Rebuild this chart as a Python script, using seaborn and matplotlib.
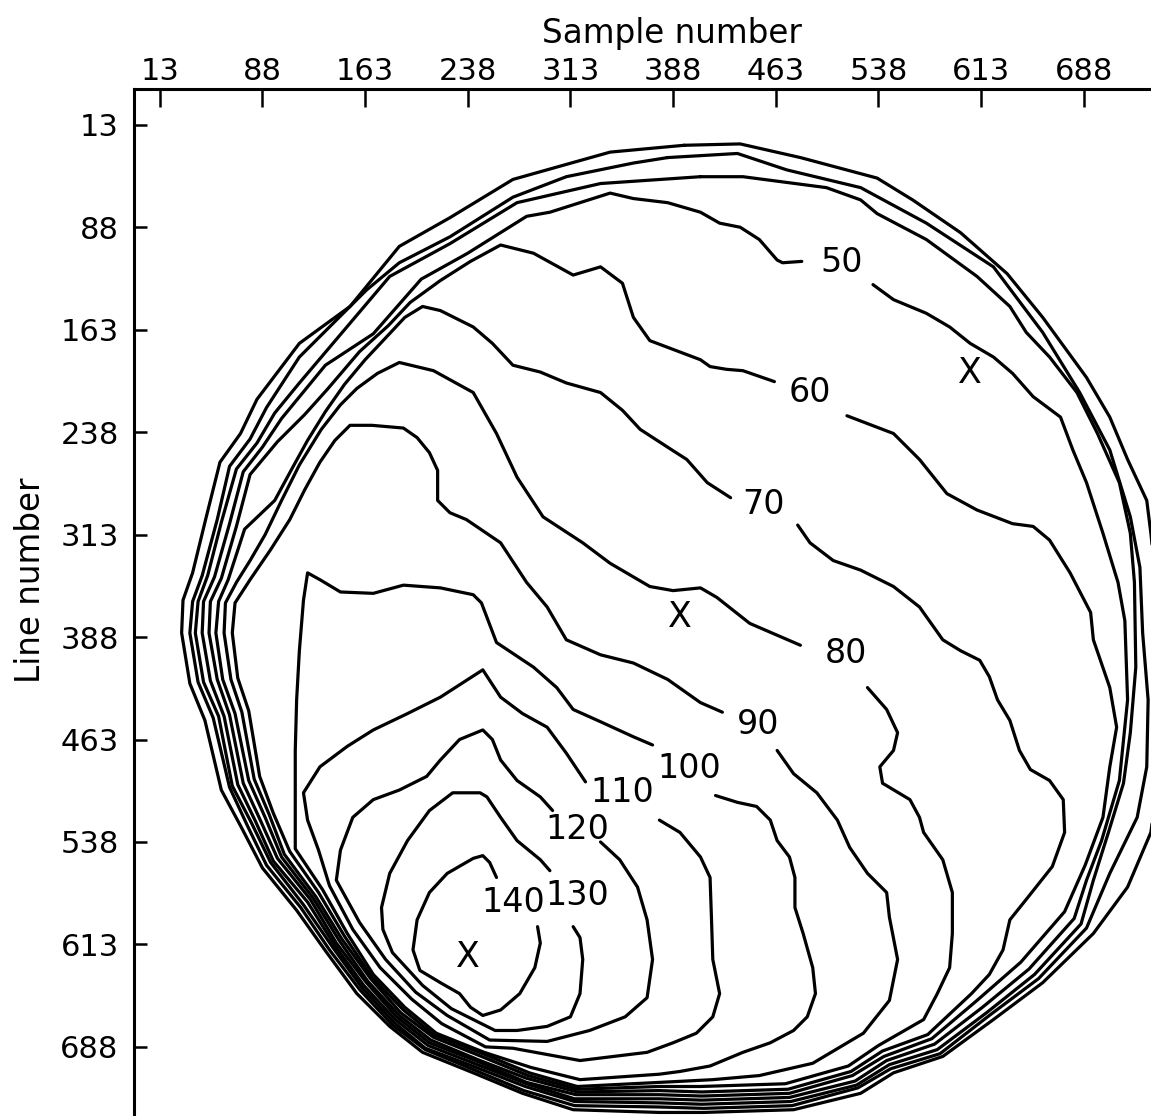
import matplotlib
matplotlib.use("Agg")
import matplotlib.pyplot as plt
import seaborn as sns
import pandas as pd

sns.set_theme(style="ticks")
plt.rcParams['font.family'] = ['DejaVu Sans']

ring_outer = [(396,28),(437,27),(481,37),(537,52),(563,68),(598,92),(632,122),(658,154),(690,198),(707,227),
              (720,258),(734,288),(737,312),(742,361),(744,434),(742,493),(737,531),(720,571),(695,605),(658,641),
              (622,668),(585,695),(549,707),(525,722),(476,734),(410,736),(378,736),(315,734),(278,722),(242,707),
              (205,692),(181,673),(157,649),(135,619),(113,588),(88,557),(73,528),(58,500),(46,449),(35,422),
              (29,385),(30,361),(37,341),(47,300),(57,260),(72,239),(84,214),(115,173),(152,146),(188,102),
              (225,81),(271,53),(310,42),(342,33),(396,28)]
ring_mid = [(384,37),(435,34),(471,46),(525,59),(573,85),(622,117),(658,165),(685,209),(707,251),(722,300),
            (729,337),(731,385),(735,434),(734,483),(727,520),(707,561),(690,601),(655,638),(619,665),(583,693),
            (547,704),(523,718),(475,731),(410,733),(378,732),(316,731),(279,720),(243,705),(207,690),(183,672),
            (159,646),(137,617),(116,586),(91,555),(77,526),(64,498),(52,447),(41,421),(35,385),(37,362),
            (44,343),(55,302),(64,263),(79,243),(91,220),(115,183),(164,134),(188,114),(225,95),(271,66),
            (310,51),(359,41),(384,37)]
ring_inner = [(408,51),(439,51),(500,59),(525,68),(537,78),(573,97),(610,124),(634,146),(646,165),(663,183),
              (683,209),(698,239),(714,275),(722,312),(725,348),(726,410),(722,458),(717,495),(706,531),(695,566),
              (686,598),(652,635),(617,663),(581,690),(546,701),(522,716),(474,728),(409,730),(378,729),(316,728),
              (280,717),(244,703),(207,689),(184,670),(161,645),(140,616),(118,584),(94,553),(80,524),(66,497),
              (56,446),(45,421),(39,385),(41,362),(48,343),(58,304),(69,265),(84,246),(97,224),(115,202),
              (148,163),(181,124),(225,100),(274,70),(335,56),(408,51)]
c50 = [(534,130),(549,141),(573,151),(590,161),(605,173),(622,183),(636,195),(651,212),(671,227),(680,251),
       (690,275),(702,312),(713,348),(718,376),(720,434),(714,493),(701,537),(690,566),(681,594),(648,631),
       (614,659),(579,686),(544,698),(521,713),(473,725),(409,727),(378,726),(316,726),(281,715),(245,701),
       (209,687),(185,668),(162,643),(141,614),(121,582),(96,552),(83,523),(70,496),(60,446),(50,420),
       (44,385),(45,362),(53,344),(64,305),(74,267),(88,249),(102,228),(134,189),(169,166),(204,126),
       (238,107),(281,80),(298,77),(342,63),(359,67),(384,70),(408,77),(422,85),(437,88),(451,97),
       (464,112),(468,114),(482,113)]
c60 = [(515,226),(549,239),(568,258),(588,283),(610,295),(636,305),(651,307),(663,317),(678,341),(693,370),
       (695,390),(707,425),(712,454),(707,483),(702,520),(689,555),(674,589),(642,626),(610,654),(577,682),
       (542,695),(519,709),(473,722),(409,724),(378,723),(317,723),(281,714),(246,699),(210,685),(186,666),
       (164,641),(142,612),(123,580),(99,550),(86,521),(74,495),(64,445),(55,419),(49,385),(50,362),
       (58,345),(69,307),(79,269),(99,245),(119,225),(136,206),(159,179),(180,160),(196,143),(218,127),
       (240,113),(262,101),(286,107),(315,123),(335,117),(351,129),(359,154),(371,171),(408,185),(415,190),
       (427,192),(439,193),(462,201)]
c70 = [(479,306),(488,319),(505,332),(525,339),(549,351),(568,366),(585,390),(598,398),(612,405),(619,417),
       (625,434),(634,449),(641,471),(649,485),(663,493),(673,507),(674,531),(665,556),(646,580),(634,595),
       (629,617),(619,635),(606,649),(574,679),(541,691),(518,706),(472,719),(409,721),(378,720),(318,721),
       (281,711),(247,698),(211,683),(188,665),(165,640),(144,610),(125,579),(102,549),(90,520),(78,493),
       (68,444),(59,419),(54,385),(56,362),(63,346),(75,309),(97,288),(110,264),(121,244),(134,223),
       (148,203),(163,185),(178,169),(192,154),(205,146),(218,149),(242,161),(256,173),(271,189),(291,194),
       (310,202),(335,209),(351,222),(364,236),(384,249),(398,258),(413,275),(430,286)]
c80 = [(530,425),(544,441),(552,458),(549,471),(539,483),(541,495),(561,507),(568,520),(571,531),(585,551),
       (592,575),(592,605),(590,630),(581,649),(571,668),(538,687),(516,702),(470,715),(408,717),(378,717),
       (318,719),(282,709),(248,695),(213,681),(189,663),(167,638),(146,609),(127,578),(104,547),(93,518),
       (82,492),(73,443),(65,419),(60,385),(61,363),(69,348),(79,332),(90,313),(102,288),(115,262),
       (131,236),(145,218),(157,206),(172,195),(188,187),(213,193),(242,209),(259,239),(274,271),(293,300),
       (322,319),(342,334),(371,351),(388,354),(408,352),(420,359),(444,378),(481,394)]
c90 = [(464,471),(476,488),(493,502),(508,522),(517,542),(530,561),(544,575),(546,593),(552,624),(546,654),
       (527,678),(490,700),(451,709),(417,712),(378,714),(318,717),(283,707),(249,693),(213,679),(191,661),
       (168,637),(148,607),(129,575),(108,545),(96,517),(86,490),(78,442),(70,418),(66,385),(68,363),
       (79,346),(94,324),(108,302),(119,280),(130,260),(141,244),(152,233),(168,233),(191,235),(201,242),
       (210,253),(216,266),(216,288),(225,297),(237,302),(262,319),(281,348),(296,366),(310,390),(335,401),
       (359,407),(384,419),(408,436),(424,443)]
c100 = [(419,504),(435,509),(449,512),(459,522),(464,537),(473,549),(477,564),(477,586),(483,605),(490,630),
        (492,649),(486,666),(476,676),(459,685),(439,692),(415,702),(393,706),(378,708),(320,712),(284,703),
        (250,692),(215,678),(192,659),(169,635),(150,605),(132,573),(112,543),(112,507),(112,471),(113,434),
        (115,398),(118,361),(121,341),(130,346),(145,355),(169,356),(191,350),(218,352),(242,357),(248,363),
        (259,392),(286,410),(303,425),(315,441),(335,450),(359,461),(373,467)]
c110 = [(378,522),(393,531),(408,549),(415,564),(416,593),(417,624),(422,649),(417,666),(405,678),(388,685),
        (369,692),(320,698),(271,689),(251,688),(219,671),(197,653),(174,630),(154,602),(137,570),(129,544),
        (121,522),(118,502),(130,483),(150,468),(169,456),(194,444),(218,432),(249,412),(262,432),(278,444),
        (296,454),(310,473),(324,494)]
c120 = [(335,538),(349,551),(362,571),(369,595),(373,624),(369,652),(353,666),(327,676),(296,684),(254,683),
        (223,665),(200,648),(178,624),(159,597),(142,566),(145,544),(154,520),(169,507),(188,500),(208,490),
        (218,478),(232,463),(249,456),(256,463),(262,478),(274,493),(291,505),(300,515)]
c130 = [(315,600),(320,608),(322,624),(320,649),(313,666),(296,673),(274,676),(258,676),(226,660),(205,643),
        (183,619),(176,602),(175,586),(181,561),(194,537),(210,515),(227,502),(247,502),(252,505),(262,520),
        (274,537),(291,551),(298,559)]
c140 = [(289,600),(291,612),(287,630),(276,649),(262,661),(249,665),(240,659),(232,649),(218,641),(203,632),
        (198,617),(201,595),(210,575),(223,561),(242,550),(249,548),(254,553),(259,564)]

label_levels = [50, 60, 70, 80, 90, 100, 110, 120, 130, 140]
label_sample = [511, 488, 454, 514, 450, 400, 351, 318, 318, 271]
label_line = [114, 209, 291, 400, 452, 484, 502, 529, 577, 582]

mark_sample = [238, 393, 605]
mark_line = [622, 373, 195]

tick_values = [13, 88, 163, 238, 313, 388, 463, 538, 613, 688]

contours = {
    "ring_outer": ring_outer, "ring_mid": ring_mid, "ring_inner": ring_inner,
    "50": c50, "60": c60, "70": c70, "80": c80, "90": c90,
    "100": c100, "110": c110, "120": c120, "130": c130, "140": c140,
}
rows = []
for name, pts in contours.items():
    for i, (s, l) in enumerate(pts):
        rows.append({"contour": name, "order": i, "sample": s, "line": l})
df = pd.DataFrame(rows)

fig = plt.figure(figsize=(11.51, 11.16), dpi=100)
ax = fig.add_axes([134 / 1151, 0, 1017 / 1151, 1027 / 1116])

sns.lineplot(data=df, x="sample", y="line", units="contour", estimator=None,
             sort=False, color="black", linewidth=2.3, legend=False, ax=ax)

for lev, s, l in zip(label_levels, label_sample, label_line):
    ax.text(s, l, str(lev), ha="center", va="center", fontsize=24, color="black")

for s, l in zip(mark_sample, mark_line):
    ax.text(s, l, "X", ha="center", va="center", fontsize=25, color="black")

ax.set_xlim(-5.8, 737.1)
ax.set_ylim(738.6, -13.2)

ax.xaxis.tick_top()
ax.set_xticks(tick_values)
ax.set_yticks(tick_values)
ax.tick_params(axis="x", direction="in", length=13, width=1.8, labelsize=22,
               pad=2, top=True, bottom=False, colors="black")
ax.tick_params(axis="y", direction="in", length=9, width=1.8, labelsize=22,
               pad=11, left=True, right=False, colors="black")

for side in ["right", "bottom"]:
    ax.spines[side].set_visible(False)
for side in ["left", "top"]:
    ax.spines[side].set_linewidth(2.2)
    ax.spines[side].set_color("black")

ax.xaxis.set_label_position("top")
ax.set_xlabel("Sample number", fontsize=23.5, color="black")
ax.xaxis.set_label_coords(0.529, 1.0545)
ax.xaxis.label.set_va("center")
ax.set_ylabel("Line number", fontsize=23.5, color="black")
ax.yaxis.set_label_coords(-0.102, 0.522)
ax.yaxis.label.set_va("center")

fig.savefig("out.png", dpi=100)
